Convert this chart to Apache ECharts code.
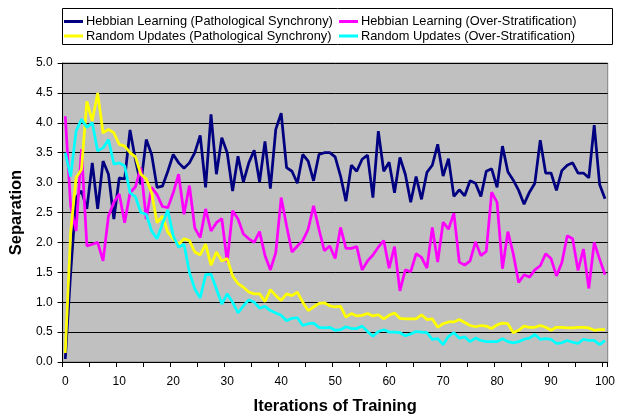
<!DOCTYPE html>
<html>
<head>
<meta charset="utf-8">
<script src="https://cdn.jsdelivr.net/npm/echarts@6/dist/echarts.min.js"></script>
<style>
html,body{margin:0;padding:0;background:#fff;}
#chart{width:618px;height:420px;}
</style>
</head>
<body>
<div id="chart"></div>
<script>
// Iterations of training (category axis 0..100)
const iterations = Array.from({length: 101}, (_, i) => String(i));

const yTicks = ['0.0','0.5','1.0','1.5','2.0','2.5','3.0','3.5','4.0','4.5','5.0'];

const seriesNames = [
  'Hebbian Learning (Pathological Synchrony)',
  'Hebbian Learning (Over-Stratification)',
  'Random Updates (Pathological Synchrony)',
  'Random Updates (Over-Stratification)'
];

const hebbianPS = [
  0.05,1.5,2.75,2.86,2.56,3.33,2.56,3.36,3.14,2.39,
  3.08,3.06,3.88,3.38,2.97,3.72,3.47,2.92,2.94,3.19,
  3.47,3.33,3.24,3.33,3.5,3.79,2.92,4.14,3.14,3.75,
  3.5,2.86,3.44,3.01,3.33,3.54,3.01,3.69,2.9,3.89,
  4.16,3.25,3.19,2.99,3.47,3.36,3.03,3.47,3.5,3.5,
  3.43,3.11,2.69,3.29,3.19,3.39,3.46,2.75,3.86,3.19,
  3.34,2.83,3.42,3.14,2.67,3.1,2.72,3.17,3.29,3.64,
  3.11,3.4,2.77,2.88,2.78,3.03,2.99,2.77,3.19,3.23,
  2.92,3.61,3.18,3.04,2.87,2.64,2.84,2.99,3.71,3.16,
  3.16,2.87,3.2,3.29,3.33,3.16,3.16,3.08,3.96,2.97,
  2.73
];

const hebbianOS = [
  4.11,2.6,2.19,3.56,1.94,1.97,2.0,1.69,2.44,2.67,
  2.81,2.33,2.83,2.93,3.25,2.39,2.92,2.8,2.6,2.58,
  2.83,3.14,2.47,2.95,2.24,2.08,2.56,2.19,2.33,2.4,
  1.67,2.53,2.39,2.14,2.06,2.0,2.18,1.78,1.54,1.83,
  2.75,2.28,1.84,1.94,2.03,2.22,2.61,2.22,1.86,1.94,
  1.73,2.25,1.9,1.9,1.93,1.54,1.69,1.79,1.92,2.03,
  1.57,1.93,1.19,1.54,1.51,1.81,1.75,1.57,2.25,1.67,
  2.34,2.22,2.49,1.67,1.62,1.69,2.01,1.78,1.85,2.84,
  2.67,1.56,2.18,1.81,1.33,1.46,1.42,1.54,1.61,1.81,
  1.73,1.44,1.66,2.11,2.06,1.53,1.89,1.23,2.0,1.72,
  1.46
];

const randomPS = [
  0.15,2.17,3.08,3.22,4.36,4.03,4.5,3.83,3.89,3.83,
  3.64,3.61,3.5,3.43,3.14,3.06,2.83,2.33,2.44,2.17,
  2.06,1.97,2.06,2.03,1.84,1.79,1.97,1.62,1.84,1.69,
  1.73,1.44,1.31,1.25,1.17,1.14,1.14,1.01,1.21,1.11,
  1.03,1.14,1.11,1.17,1.0,0.86,0.92,0.98,0.99,0.94,
  0.92,0.93,0.75,0.81,0.77,0.78,0.81,0.77,0.79,0.72,
  0.78,0.82,0.73,0.72,0.72,0.72,0.79,0.71,0.72,0.58,
  0.64,0.67,0.67,0.71,0.66,0.61,0.59,0.61,0.6,0.56,
  0.62,0.65,0.64,0.49,0.53,0.6,0.58,0.58,0.61,0.58,
  0.53,0.58,0.58,0.57,0.57,0.58,0.58,0.57,0.53,0.54,
  0.54
];

const randomOS = [
  3.5,3.1,3.86,4.06,3.92,4.0,3.53,3.58,3.72,3.31,
  3.33,3.28,2.83,2.76,2.5,2.47,2.19,2.06,2.31,2.54,
  2.11,1.92,1.97,1.5,1.22,1.07,1.46,1.47,1.22,0.97,
  1.14,1.0,0.82,0.94,1.04,1.0,0.9,0.93,0.86,0.82,
  0.78,0.69,0.73,0.74,0.61,0.64,0.65,0.58,0.57,0.58,
  0.53,0.54,0.59,0.56,0.56,0.6,0.51,0.43,0.51,0.54,
  0.5,0.5,0.49,0.44,0.47,0.51,0.5,0.49,0.38,0.39,
  0.29,0.43,0.49,0.4,0.42,0.34,0.4,0.36,0.34,0.34,
  0.34,0.39,0.34,0.32,0.34,0.38,0.4,0.46,0.38,0.39,
  0.38,0.31,0.32,0.36,0.33,0.31,0.38,0.36,0.36,0.29,
  0.36
];

const colors = ['#000080', '#FF00FF', '#FFFF00', '#00FFFF'];
const values = [hebbianPS, hebbianOS, randomPS, randomOS];
const FONT = "'Liberation Sans', Arial, sans-serif";

const legendPos = [
  {left: 64, top: 15},
  {left: 339, top: 15},
  {left: 64, top: 29.5},
  {left: 339, top: 29.5}
];

const chart = echarts.init(document.getElementById('chart'), null, {renderer: 'canvas'});
chart.setOption({
  animation: false,
  backgroundColor: '#ffffff',
  textStyle: {fontFamily: FONT},
  graphic: [{
    type: 'rect',
    z: -1,
    shape: {x: 62.5, y: 8.5, width: 550, height: 36},
    style: {fill: '#ffffff', stroke: '#000000', lineWidth: 1}
  }],
  legend: seriesNames.map((n, i) => ({
    data: [n],
    left: legendPos[i].left,
    top: legendPos[i].top,
    padding: 0,
    icon: 'rect',
    itemWidth: 19,
    itemHeight: 3,
    selectedMode: false,
    textStyle: {fontFamily: FONT, fontSize: 12.8, color: '#000000', padding: [0, 0, 0, -2]}
  })),
  grid: {
    left: 60, right: 7, top: 63, bottom: 57,
    show: true,
    backgroundColor: '#C0C0C0',
    borderColor: '#808080',
    borderWidth: 1
  },
  xAxis: {
    type: 'category',
    data: iterations,
    boundaryGap: true,
    name: 'Iterations of Training',
    nameLocation: 'middle',
    nameGap: 36,
    nameTextStyle: {fontFamily: FONT, fontSize: 16.5, fontWeight: 'bold', color: '#000000'},
    axisLine: {show: true, lineStyle: {color: '#000000', width: 1}},
    axisTick: {show: true, interval: 4, length: 5, lineStyle: {color: '#000000'}},
    axisLabel: {interval: 9, fontSize: 12, color: '#000000', margin: 14, fontFamily: FONT},
    splitLine: {show: false}
  },
  yAxis: {
    type: 'value',
    min: 0, max: 5, interval: 0.5,
    name: 'Separation',
    nameLocation: 'middle',
    nameRotate: 90,
    nameGap: 25,
    nameTextStyle: {fontFamily: FONT, fontSize: 16.5, fontWeight: 'bold', color: '#000000'},
    axisLine: {show: true, lineStyle: {color: '#000000', width: 1}},
    axisTick: {show: true, length: 5, lineStyle: {color: '#000000'}},
    axisLabel: {
      fontSize: 12, color: '#000000', margin: 10, fontFamily: FONT,
      formatter: v => yTicks[Math.round(v * 2)]
    },
    splitLine: {show: true, lineStyle: {color: '#000000', width: 1}}
  },
  series: seriesNames.map((n, i) => ({
    name: n,
    type: 'line',
    data: values[i],
    symbol: 'none',
    lineStyle: {color: colors[i], width: 2.75},
    itemStyle: {color: colors[i]},
    z: 2 + i
  }))
});
</script>
</body>
</html>
